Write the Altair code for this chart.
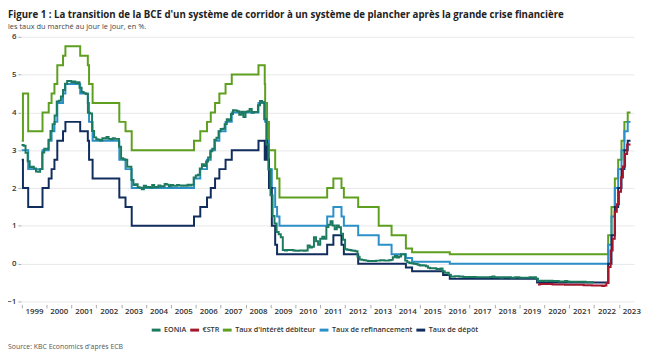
import altair as alt
import pandas as pd

# ---------------- data ----------------
series_names = ["EONIA", "€STR", "Taux d'intérêt débiteur", "Taux de refinancement", "Taux de dépôt"]
series_colors = ["#1c7a5f", "#a3162b", "#5e9f1f", "#2b90c8", "#102d5e"]

end_date = "2023-06-20"

mlf_dates = ["1999-01-04", "1999-01-22", "1999-04-09", "1999-11-05", "2000-02-04", "2000-03-17",
             "2000-04-28", "2000-06-09", "2000-09-01", "2000-10-06", "2001-05-11", "2001-08-31",
             "2001-09-18", "2001-11-09", "2002-12-06", "2003-03-07", "2003-06-06", "2005-12-06",
             "2006-03-08", "2006-06-15", "2006-08-09", "2006-10-11", "2006-12-13", "2007-03-14",
             "2007-06-13", "2008-07-09", "2008-10-09", "2008-10-15", "2008-11-12", "2008-12-10",
             "2009-03-11", "2009-04-08", "2009-05-13", "2011-04-13", "2011-07-13", "2011-11-09",
             "2011-12-14", "2012-07-11", "2013-05-08", "2013-11-13", "2014-06-11", "2014-09-10",
             "2016-03-16", "2022-07-27", "2022-09-14", "2022-11-02", "2022-12-21", "2023-02-08",
             "2023-03-22", "2023-05-10"]
mlf_values = [3.25, 4.50, 3.50, 4.00, 4.25, 4.50,
              4.75, 5.25, 5.50, 5.75, 5.50, 5.25,
              4.75, 4.25, 3.75, 3.50, 3.00, 3.25,
              3.50, 3.75, 4.00, 4.25, 4.50, 4.75,
              5.00, 5.25, 4.75, 4.25, 3.75, 3.00,
              2.50, 2.25, 1.75, 2.00, 2.25, 2.00,
              1.75, 1.50, 1.00, 0.75, 0.40, 0.30,
              0.25, 0.75, 1.50, 2.25, 2.75, 3.25,
              3.75, 4.00]

mro_dates = ["1999-01-04", "1999-04-09", "1999-11-05", "2000-02-04", "2000-03-17", "2000-04-28",
             "2000-06-09", "2000-09-01", "2000-10-06", "2001-05-11", "2001-08-31", "2001-09-18",
             "2001-11-09", "2002-12-06", "2003-03-07", "2003-06-06", "2005-12-06", "2006-03-08",
             "2006-06-15", "2006-08-09", "2006-10-11", "2006-12-13", "2007-03-14", "2007-06-13",
             "2008-07-09", "2008-10-15", "2008-11-12", "2008-12-10", "2009-01-21", "2009-03-11",
             "2009-04-08", "2009-05-13", "2011-04-13", "2011-07-13", "2011-11-09", "2011-12-14",
             "2012-07-11", "2013-05-08", "2013-11-13", "2014-06-11", "2014-09-10", "2016-03-16",
             "2022-07-27", "2022-09-14", "2022-11-02", "2022-12-21", "2023-02-08", "2023-03-22",
             "2023-05-10"]
mro_values = [3.00, 2.50, 3.00, 3.25, 3.50, 3.75,
              4.25, 4.50, 4.75, 4.50, 4.25, 3.75,
              3.25, 2.75, 2.50, 2.00, 2.25, 2.50,
              2.75, 3.00, 3.25, 3.50, 3.75, 4.00,
              4.25, 3.75, 3.25, 2.50, 2.00, 1.50,
              1.25, 1.00, 1.25, 1.50, 1.25, 1.00,
              0.75, 0.50, 0.25, 0.15, 0.05, 0.00,
              0.50, 1.25, 2.00, 2.50, 3.00, 3.50,
              3.75]

dfr_dates = ["1999-01-04", "1999-01-22", "1999-04-09", "1999-11-05", "2000-02-04", "2000-03-17",
             "2000-04-28", "2000-06-09", "2000-09-01", "2000-10-06", "2001-05-11", "2001-08-31",
             "2001-09-18", "2001-11-09", "2002-12-06", "2003-03-07", "2003-06-06", "2005-12-06",
             "2006-03-08", "2006-06-15", "2006-08-09", "2006-10-11", "2006-12-13", "2007-03-14",
             "2007-06-13", "2008-07-09", "2008-10-09", "2008-10-15", "2008-11-12", "2008-12-10",
             "2009-01-21", "2009-03-11", "2009-04-08", "2011-04-13", "2011-07-13", "2011-11-09",
             "2011-12-14", "2012-07-11", "2014-06-11", "2014-09-10", "2015-12-09", "2016-03-16",
             "2019-09-18", "2022-07-27", "2022-09-14", "2022-11-02", "2022-12-21", "2023-02-08",
             "2023-03-22", "2023-05-10"]
dfr_values = [2.75, 2.00, 1.50, 2.00, 2.25, 2.50,
              2.75, 3.25, 3.50, 3.75, 3.50, 3.25,
              2.75, 2.25, 1.75, 1.50, 1.00, 1.25,
              1.50, 1.75, 2.00, 2.25, 2.50, 2.75,
              3.00, 3.25, 2.75, 3.25, 2.75, 2.00,
              1.00, 0.50, 0.25, 0.50, 0.75, 0.50,
              0.25, 0.00, -0.10, -0.20, -0.30, -0.40,
              -0.50, 0.00, 0.75, 1.50, 2.00, 2.50,
              3.00, 3.25]

# EONIA, monthly averages from Jan 1999 to Dec 2021
eonia_start = "1999-01-01"
eonia_values = [
    3.14, 3.12, 2.93, 2.71, 2.55, 2.56, 2.52, 2.44, 2.43, 2.50, 2.94, 3.04,   # 1999
    3.04, 3.28, 3.51, 3.69, 3.92, 4.29, 4.31, 4.42, 4.59, 4.76, 4.83, 4.83,   # 2000
    4.80, 4.82, 4.78, 4.80, 4.65, 4.54, 4.51, 4.49, 3.99, 3.97, 3.51, 3.34,   # 2001
    3.29, 3.28, 3.26, 3.32, 3.31, 3.35, 3.30, 3.29, 3.32, 3.30, 3.30, 3.09,   # 2002
    2.79, 2.76, 2.75, 2.56, 2.56, 2.21, 2.08, 2.10, 2.02, 2.01, 1.97, 2.06,   # 2003
    2.02, 2.03, 2.01, 2.08, 2.02, 2.03, 2.07, 2.04, 2.05, 2.11, 2.09, 2.05,   # 2004
    2.08, 2.06, 2.06, 2.08, 2.07, 2.06, 2.07, 2.06, 2.09, 2.07, 2.09, 2.28,   # 2005
    2.33, 2.35, 2.52, 2.63, 2.58, 2.70, 2.81, 2.97, 3.04, 3.28, 3.33, 3.50,   # 2006
    3.56, 3.57, 3.69, 3.82, 3.79, 3.96, 4.06, 4.05, 4.03, 3.94, 4.02, 3.88,   # 2007
    4.02, 4.03, 4.09, 3.99, 4.01, 4.01, 4.19, 4.30, 4.27, 3.82, 3.15, 2.49,   # 2008
    1.81, 1.26, 1.06, 0.84, 0.78, 0.70, 0.36, 0.35, 0.36, 0.36, 0.36, 0.35,   # 2009
    0.34, 0.34, 0.35, 0.35, 0.34, 0.35, 0.48, 0.43, 0.45, 0.70, 0.59, 0.50,   # 2010
    0.66, 0.71, 0.66, 0.97, 1.03, 1.12, 1.01, 0.91, 1.01, 0.96, 0.79, 0.63,   # 2011
    0.38, 0.37, 0.36, 0.35, 0.34, 0.33, 0.18, 0.11, 0.10, 0.09, 0.08, 0.07,   # 2012
    0.07, 0.07, 0.07, 0.08, 0.08, 0.09, 0.09, 0.08, 0.08, 0.09, 0.10, 0.17,   # 2013
    0.20, 0.16, 0.19, 0.25, 0.25, 0.08, 0.04, 0.02, 0.01, 0.00, -0.01, -0.03, # 2014
    -0.05, -0.04, -0.05, -0.07, -0.11, -0.12, -0.12, -0.12, -0.14, -0.14, -0.13, -0.20,  # 2015
    -0.24, -0.24, -0.29, -0.34, -0.34, -0.33, -0.33, -0.34, -0.34, -0.35, -0.35, -0.35,  # 2016
    -0.35, -0.35, -0.35, -0.36, -0.36, -0.36, -0.36, -0.36, -0.36, -0.36, -0.35, -0.34,  # 2017
    -0.36, -0.36, -0.36, -0.37, -0.36, -0.36, -0.36, -0.36, -0.37, -0.37, -0.36, -0.36,  # 2018
    -0.37, -0.37, -0.37, -0.37, -0.37, -0.36, -0.37, -0.36, -0.40, -0.46, -0.45, -0.46,  # 2019
    -0.45, -0.45, -0.46, -0.45, -0.46, -0.46, -0.46, -0.47, -0.47, -0.47, -0.46, -0.47,  # 2020
    -0.48, -0.48, -0.48, -0.48, -0.48, -0.48, -0.48, -0.48, -0.49, -0.49, -0.49, -0.49,  # 2021
]

# €STR, monthly averages from Oct 2019 to May 2023
estr_start = "2019-10-01"
estr_values = [
    -0.55, -0.54, -0.54,                                                          # 2019
    -0.54, -0.54, -0.54, -0.54, -0.55, -0.55, -0.55, -0.55, -0.55, -0.55, -0.56, -0.56,  # 2020
    -0.56, -0.56, -0.56, -0.56, -0.56, -0.56, -0.56, -0.57, -0.57, -0.57, -0.57, -0.58,  # 2021
    -0.58, -0.58, -0.58, -0.58, -0.59, -0.58, -0.51, -0.09, 0.35, 0.66, 1.37, 1.57,      # 2022
    1.90, 2.28, 2.57, 2.90, 3.15,                                                  # 2023
]

year_ticks = list(range(1999, 2024))
y_ticks = [-1, 0, 1, 2, 3, 4, 5, 6]

# ---------------- build table ----------------
rows = []

def add_steps(name, dates, values, last):
    for d, v in zip(dates, values):
        rows.append({"serie": name, "date": d, "taux": v})
    rows.append({"serie": name, "date": last, "taux": values[-1]})

add_steps("Taux d'intérêt débiteur", mlf_dates, mlf_values, end_date)
add_steps("Taux de refinancement", mro_dates, mro_values, end_date)
add_steps("Taux de dépôt", dfr_dates, dfr_values, end_date)

e_dates = pd.date_range(eonia_start, periods=len(eonia_values) + 1, freq="MS").strftime("%Y-%m-%d").tolist()
add_steps("EONIA", e_dates[:-1], eonia_values, e_dates[-1])
s_dates = pd.date_range(estr_start, periods=len(estr_values), freq="MS").strftime("%Y-%m-%d").tolist()
add_steps("€STR", s_dates, estr_values, end_date)

df = pd.DataFrame(rows)

FONT = "Open Sans"

color_scale = alt.Scale(domain=series_names, range=series_colors)

base = alt.Chart(df).mark_line(interpolate="step-after", strokeWidth=2).encode(
    x=alt.X("date:T",
            scale=alt.Scale(type="utc", domain=["1998-12-22", "2023-08-12"], nice=False),
            axis=alt.Axis(title=None,
                          values=[alt.DateTime(year=y, month=1, date=1, utc=True) for y in year_ticks],
                          labelExpr="utcFormat(datum.value, '%Y')",
                          labelOffset=12.6, labelOverlap=False, labelFlush=False,
                          grid=False, domain=False, tickSize=3.5, tickColor="#aaaaaa",
                          offset=3, labelPadding=0, labelFontSize=8,
                          labelFont=FONT, labelFontWeight=600, labelColor="#333333")),
    y=alt.Y("taux:Q",
            scale=alt.Scale(domain=[-1, 6], nice=False),
            axis=alt.Axis(title=None, values=y_ticks, format="d", domain=False,
                          tickSize=3, tickColor="#aaaaaa", labelPadding=2,
                          labelFontSize=8, labelFont=FONT, labelFontWeight=600,
                          labelColor="#333333", gridColor="#e8e8e8", gridWidth=1)),
    color=alt.Color("serie:N", scale=color_scale,
                    legend=alt.Legend(title=None, orient="none", legendX=131, legendY=291,
                                      direction="horizontal", symbolType="stroke",
                                      symbolStrokeWidth=3, symbolSize=80, labelFontSize=7.3,
                                      labelFont=FONT, labelColor="#333333", labelFontWeight=600,
                                      gridAlign="none", columnPadding=-3, labelOffset=2,
                                      values=series_names)),
)

draw_order = ["Taux d'intérêt débiteur", "Taux de refinancement", "Taux de dépôt", "EONIA", "€STR"]
layers = [base.transform_filter(alt.datum.serie == s) for s in draw_order]

source_df = pd.DataFrame({"t": ["Source: KBC Economics d'après ECB"]})
source = alt.Chart(source_df).mark_text(align="left", baseline="middle", fontSize=7,
                                        font=FONT, color="#555555").encode(
    x=alt.value(-13), y=alt.value(314), text="t:N")

chart = alt.layer(*layers, source).properties(
    width=621, height=268,
    padding={"left": 13, "top": 27, "right": 10, "bottom": 48},
    autosize=alt.AutoSizeParams(type="none"),
    title=alt.TitleParams(
        text="Figure 1 : La transition de la BCE d'un système de corridor à un système de plancher après la grande crise financière",
        subtitle="les taux du marché au jour le jour, en %.",
        anchor="start", frame="group", dx=-13, offset=2,
        font=FONT, fontSize=9.8, fontWeight="bold", color="#222222",
        subtitleFont=FONT, subtitleFontSize=7.5, subtitleColor="#444444", subtitlePadding=4),
).configure_view(stroke=None)

chart.save("out.html", embed_options={"renderer": "svg", "actions": False})
